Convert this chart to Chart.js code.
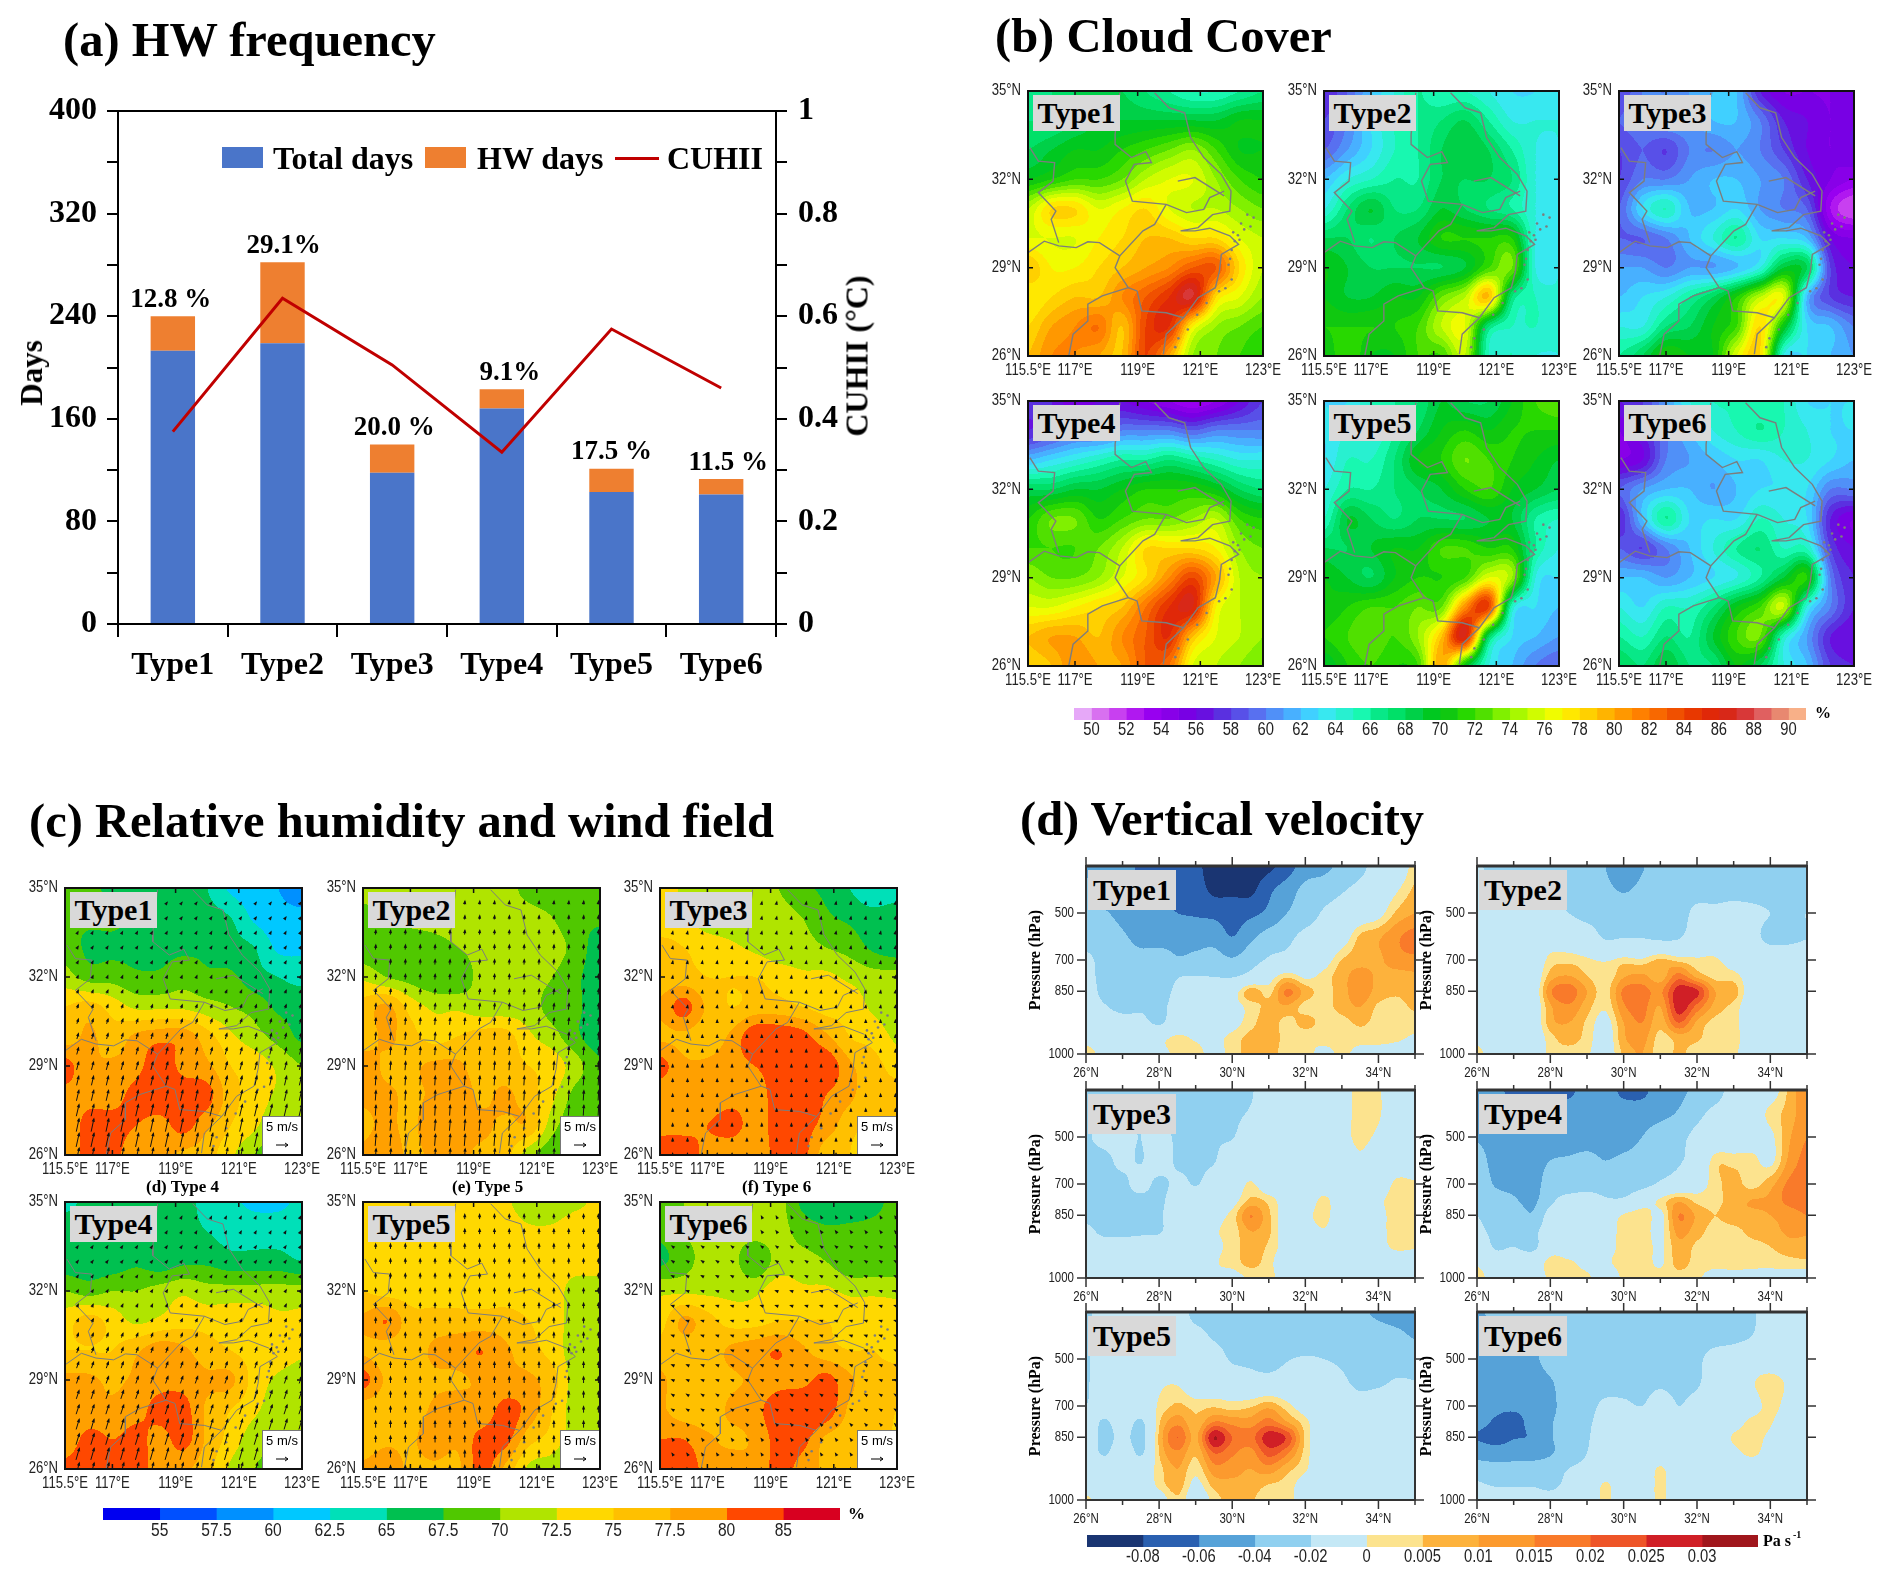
<!DOCTYPE html>
<html>
<head>
<meta charset="utf-8">
<title>Heat wave composite</title>
<script src="https://cdn.jsdelivr.net/npm/chart.js@4/dist/chart.umd.js"></script>
<style>
  body { margin: 0; background: #fff; width: 1892px; height: 1581px; overflow: hidden; position: relative; }
  canvas { position: absolute; }
  .txt { position: absolute; white-space: nowrap; font-family: "Liberation Serif", serif; font-weight: bold; color: #000; }
  .tag { position: absolute; background: #d9d9d9; font-family: "Liberation Serif", serif; font-weight: bold; font-size: 30px; text-align: center; color: #000; }
</style>
</head>
<body>
<script>
// panel (a)
const typeNames = ['Type1', 'Type2', 'Type3', 'Type4', 'Type5', 'Type6'];
const totalDays = [213, 219, 118, 168, 103, 101];
const hwDays = [27, 63, 22, 15, 18, 12];
const cuhii = [0.375, 0.635, 0.505, 0.335, 0.575, 0.46];
const hwShare = ['12.8 %', '29.1%', '20.0 %', '9.1%', '17.5 %', '11.5 %'];

// map grids, rows run north to south
const mapLons = [115.5, 116.25, 117, 117.75, 118.5, 119.25, 120, 120.75, 121.5, 122.25, 123];
const mapLats = [35, 34, 33, 32, 31, 30, 29, 28, 27, 26];

// panel (b) cloud cover, %
const cloudType1 = [
  [67,67,68,68,68,67,66,65,65,66,67],[67,67,68,69,69,69,69,69,69,70,70],[68,69,70,70,71,72,73,74,72,70,70],
  [70,71,72,72,73,75,76,76,74,72,71],[75,78,78,76,77,78,76,75,75,74,73],[76,76,76,77,78,79,79,78,78,76,75],
  [79,77,77,78,79,80,81,83,83,78,75],[77,78,79,79,81,83,85,87,78,76,74],[78,80,81,82,79,84,85,77,74,73,72],
  [79,81,81,80,79,84,80,74,73,72,71]];
const cloudType2 = [
  [57,59,62,64,66,65,65,64,63,63,64],[58,60,63,65,66,67,68,66,64,64,64],[59,61,63,65,66,68,69,68,66,64,64],
  [62,64,65,66,66,68,68,68,67,64,64],[64,67,69,67,67,69,68,67,66,64,64],[68,68,67,68,69,71,71,71,71,64,64],
  [70,69,68,68,68,68,69,72,73,64,64],[70,69,69,70,70,73,75,79,67,65,64],[71,71,71,71,72,75,76,67,65,65,64],
  [70,72,70,70,72,72,75,65,65,64,64]];
const cloudType3 = [
  [58,60,60,61,62,62,57,55,55,55,56],[59,60,61,61,62,62,60,57,56,55,56],[58,59,58,60,60,61,60,58,56,55,56],
  [58,60,60,61,62,62,61,60,57,55,54],[59,63,65,62,62,63,61,60,59,53,51],[59,59,60,62,64,66,63,63,62,56,55],
  [61,61,60,61,61,62,64,69,68,58,56],[62,63,64,66,68,71,75,76,62,58,57],[64,64,67,68,70,72,78,70,63,62,60],
  [66,68,71,70,70,76,78,64,63,62,61]];
const cloudType4 = [
  [58,57,55,56,56,55,54,53,54,56,58],[57,58,59,59,60,60,60,59,60,60,60],[62,63,64,65,66,66,67,66,65,64,64],
  [68,68,69,69,70,71,71,71,70,68,67],[71,73,73,71,72,73,73,74,75,72,71],[72,72,72,73,75,78,78,78,77,74,73],
  [74,73,73,74,76,78,81,84,80,75,74],[76,76,77,78,79,82,85,86,77,75,74],[79,80,80,79,81,83,85,79,76,75,74],
  [78,79,81,80,80,83,82,76,75,74,73]];
const cloudType5 = [
  [63,63,65,66,67,69,68,68,70,72,73],[63,64,64,66,68,70,71,70,71,71,71],[63,65,65,67,70,71,73,72,71,70,69],
  [64,66,66,67,68,69,71,72,70,69,68],[65,69,68,67,68,68,68,69,69,66,65],[68,68,69,70,70,72,72,71,71,66,64],
  [70,69,68,70,71,71,72,76,74,64,63],[70,71,72,72,73,73,81,84,65,63,62],[71,72,73,72,74,79,86,68,63,62,61],
  [69,71,72,71,72,80,70,64,62,60,59]];
const cloudType6 = [
  [57,58,61,64,65,65,65,65,63,63,63],[55,57,60,62,64,65,66,65,64,63,63],[55,56,60,61,62,63,63,64,64,63,62],
  [59,61,62,62,61,62,63,63,63,60,60],[57,62,66,63,63,63,65,64,63,57,55],[59,58,60,62,64,66,67,65,65,58,56],
  [62,62,61,62,63,64,66,69,71,60,57],[64,63,65,65,67,70,72,75,64,60,57],[66,65,67,66,69,72,73,65,61,57,56],
  [68,67,69,67,67,70,68,64,62,58,57]];

// panel (c) relative humidity, %
const rhType1 = [
  [68,68,67,67,67,66,65,62,61,60,58],[68,68,68,67,67,66,66,65,62,61,61],[69,67,67,67,67,67,67,66,65,62,62],
  [71,69,69,68,68,69,68,68,66,65,64],[75,76,74,72,72,72,71,70,69,67,67],[76,78,76,78,79,79,76,73,71,69,67],
  [81,78,78,79,82,79,78,75,74,72,70],[79,79,79,81,82,82,81,76,74,72,71],[78,81,81,80,79,81,78,75,73,70,70],
  [78,81,81,78,78,77,76,73,70,68,69]];
const rhType2 = [
  [71,71,71,71,71,71,71,69,68,68,68],[69,70,71,71,71,71,71,71,70,68,68],[68,68,68,69,70,71,71,71,71,69,66],
  [72,70,69,68,68,71,71,71,70,68,66],[76,78,74,72,72,71,71,71,69,68,66],[76,78,76,74,75,76,76,73,71,68,66],
  [79,77,77,78,78,76,76,75,74,71,68],[78,78,77,78,79,77,78,76,73,69,68],[77,78,77,79,78,78,77,77,71,68,68],
  [78,79,77,78,78,77,76,71,68,67,68]];
const rhType3 = [
  [74,72,71,71,71,70,68,67,65,63,63],[73,73,71,71,71,71,70,68,67,66,67],[76,75,74,73,72,71,71,70,69,67,66],
  [76,76,75,75,75,74,73,73,72,71,71],[78,81,77,75,76,76,75,74,74,72,71],[77,77,76,78,82,82,81,78,75,74,72],
  [81,78,78,79,80,81,81,82,78,76,74],[78,78,78,79,79,81,82,80,78,76,76],[79,79,80,81,79,81,81,79,76,75,76],
  [82,82,79,78,78,81,81,76,75,71,75]];
const rhType4 = [
  [64,66,67,67,66,66,64,63,62,62,63],[67,67,66,66,66,66,65,64,64,64,64],[66,66,66,67,66,67,67,66,66,66,65],
  [70,69,70,70,71,72,71,71,71,71,71],[74,76,74,72,73,74,74,74,74,73,73],[75,75,75,77,79,78,76,75,74,74,73],
  [78,78,77,78,79,79,78,78,74,72,71],[78,78,78,79,81,81,77,75,73,71,71],[78,81,80,81,79,81,77,74,71,70,70],
  [81,82,82,81,79,78,76,72,70,70,71]];
const rhType5 = [
  [74,74,74,74,74,74,73,71,71,72,73],[74,74,74,74,74,74,74,73,73,74,73],[74,74,74,74,74,74,74,74,74,74,74],
  [75,74,74,74,74,74,74,74,74,71,71],[78,80,76,76,76,76,76,75,74,71,71],[77,76,76,78,79,80,78,76,74,71,71],
  [81,77,76,77,77,78,78,78,76,71,71],[76,76,76,78,79,78,81,79,75,71,71],[76,77,77,79,78,81,81,76,74,71,71],
  [78,79,77,77,77,81,77,72,71,68,71]];
const rhType6 = [
  [68,70,71,70,71,71,67,66,66,67,68],[68,70,71,71,71,71,69,68,68,68,68],[67,69,71,71,68,71,71,70,68,68,68],
  [72,72,72,72,72,74,73,73,72,72,72],[74,78,76,74,74,75,75,75,74,74,73],[76,76,76,78,79,80,78,76,75,75,74],
  [78,76,76,77,78,79,79,81,78,76,76],[78,76,76,78,79,82,83,82,77,76,75],[80,80,78,77,78,81,81,77,76,75,75],
  [82,82,79,79,78,81,79,77,76,75,75]];

// wind vectors, one u and one v per latitude row, m/s
const windLons = [115.9, 116.37, 116.84, 117.31, 117.78, 118.25, 118.72, 119.19, 119.66, 120.13, 120.6, 121.07, 121.54, 122.01, 122.48, 122.95];
const windLats = [34.5, 34, 33.5, 33, 32.5, 32, 31.5, 31, 30.5, 30, 29.5, 29, 28.5, 28, 27.5, 27, 26.5, 26];
const windVType1 = [.3,.3,.4,.5,.6,.8,1,1.2,1.5,1.8,2.2,2.6,3,3.4,3.8,4.2,4.5,4.5];
const windUType1 = [.2,.2,.2,.3,.3,.3,.4,.4,.5,.5,.6,.7,.7,.8,.9,.9,1,1];
const windVType2 = [1,1.2,1.4,1.5,1.6,1.7,1.8,2,2.2,2.4,2.6,2.8,3,3.2,3.4,3.6,3.8,4];
const windUType2 = [.1,.1,.1,.1,.1,.1,.2,.2,.2,.2,.2,.2,.2,.2,.2,.3,.3,.3];
const windVType3 = [.5,.5,.5,.6,.6,.6,.7,.7,.8,.8,.9,.9,1,1,1,1,1,1];
const windUType3 = [.1,.1,.1,.1,.1,.1,.1,.1,0,0,0,0,0,0,0,0,0,0];
const windVType4 = [.2,.2,.3,.4,.5,.7,.9,1.1,1.4,1.7,2,2.3,2.7,3,3.3,3.6,3.8,4];
const windUType4 = [.1,.1,.2,.3,.3,.4,.4,.5,.5,.6,.7,.8,.9,1,1,1.1,1.1,1.1];
const windVType5 = [1.5,1.6,1.6,1.6,1.6,1.7,1.7,1.8,1.8,1.8,1.9,2,2,2,2.1,2.1,2.2,2.2];
const windUType5 = [0,0,0,0,0,0,0,0,0,0,0,0,0,0,0,0,0,0];
const windVType6 = [.4,.4,.3,.3,.3,.2,.2,.2,.2,.2,.2,.2,.3,.3,.4,.4,.5,.5];
const windUType6 = [-.2,-.3,-.4,-.5,-.6,-.6,-.6,-.6,-.6,-.5,-.5,-.5,-.5,-.5,-.4,-.3,-.3,-.2];

// panel (d) vertical velocity, 0.001 Pa/s; level rows top to bottom
const sectionLats = [26,26.5,27,27.5,28,28.5,29,29.5,30,30.5,31,31.5,32,32.5,33,33.5,34,34.5,35];
const sectionRows = [0, 1.5, 3, 4.5, 6, 7, 8, 9, 10, 11, 12];
const pressureRows = [3, 6, 8, 12];
const pressureLabels = [500, 700, 850, 1000];
const omegaType1 = [
  [-50,-50,-50,-65,-65,-70,-75,-90,-95,-90,-85,-70,-50,-45,-35,-25,-12,-8,3],
  [-30,-50,-50,-50,-55,-65,-70,-85,-85,-85,-65,-50,-35,-30,-22,-15,-8,-1,6],
  [-30,-38,-45,-50,-55,-60,-62,-65,-68,-65,-55,-40,-30,-18,-12,-8,-3,6,10],
  [-30,-32,-38,-45,-50,-48,-48,-48,-60,-45,-32,-25,-15,-12,-6,6,9,14,17],
  [-15,-28,-33,-35,-30,-38,-35,-32,-38,-28,-18,-15,-10,-5,5,8,9,13,14],
  [-15,-25,-28,-30,-35,-22,-20,-21,-22,-15,-5,3,-2,2,8,12,9,8,9],
  [-10,-25,-24,-23,-30,-15,-10,-8,-5,8,3,16,8,3,8,13,8,6,8],
  [-8,-18,-25,-22,-25,-12,-8,-5,-3,2,7,9,3,3,7,10,4,3,6],
  [-5,-8,-12,-15,-22,-10,-8,-5,-3,3,8,3,7,3,3,6,3,2,2],
  [-5,-8,-8,-5,-3,2,-1,-2,2,7,8,3,1,2,2,2,2,1,-1],
  [6,-5,-5,-2,-3,2,2,-2,2,8,8,2,2,-2,1,-2,-3,-4,-5]];
const omegaType2 = [
  [-18,-25,-28,-30,-30,-30,-32,-40,-55,-42,-30,-35,-30,-30,-30,-30,-30,-30,-30],
  [-15,-22,-25,-25,-25,-25,-30,-35,-42,-35,-30,-28,-28,-28,-28,-28,-28,-28,-28],
  [-10,-10,-10,-10,-15,-20,-25,-25,-28,-28,-30,-28,-15,-15,-12,-15,-20,-22,-20],
  [-5,-5,-5,-5,-6,-8,-12,-22,-21,-21,-24,-22,-10,-10,-12,-15,-25,-25,-21],
  [-3,-8,-8,-8,2,3,1,-1,2,1,6,3,1,1,-5,-8,-8,-8,-8],
  [-3,-8,-8,-8,7,10,5,1,9,11,7,17,8,3,2,-5,-8,-8,-8],
  [-3,-8,-8,-8,14,18,10,3,16,17,14,28,26,10,8,-6,-8,-8,-8],
  [-3,-8,-8,-8,9,14,7,1,14,17,10,28,18,8,3,-6,-8,-8,-8],
  [-3,-8,-8,-8,8,10,4,-3,10,15,7,20,9,3,2,-6,-8,-8,-8],
  [-3,-8,-8,-8,3,7,3,-5,9,12,3,7,6,1,2,-5,-8,-8,-8],
  [4,-8,-8,-8,2,3,1,-5,6,10,2,6,2,1,1,-5,-8,-8,-8]];
const omegaType3 = [
  [-25,-25,-25,-25,-25,-25,-25,-25,-25,-22,-8,-8,-8,-5,-3,2,1,-8,-8],
  [-25,-22,-22,-22,-25,-28,-28,-28,-24,-18,-8,-8,-8,-5,-3,2,1,-8,-8],
  [-22,-15,-15,-20,-10,-24,-24,-22,-21,-8,-8,-8,-8,-5,-3,2,-2,-8,-8],
  [-25,-25,-15,-21,-8,-23,-22,-21,-8,-8,-8,-8,-8,-8,-8,-2,-8,-8,-8],
  [-25,-25,-25,-12,-25,-15,-21,-12,-8,1,-8,-8,-8,-8,-8,-8,-8,2,1],
  [-25,-25,-25,-25,-25,-8,-8,-8,-4,6,3,-5,-8,2,-8,-8,-2,3,2],
  [-25,-25,-22,-21,-22,-8,-8,-3,2,15,6,-5,-3,3,-8,-8,-3,3,1],
  [-15,-25,-25,-23,-22,-8,-8,-1,2,10,6,-5,-6,-1,-8,-8,-3,3,2],
  [-8,-10,-10,-10,-8,-8,-8,-2,2,8,4,-4,-8,-8,-8,-8,-4,2,1],
  [-8,-8,-8,-8,-8,-8,-8,-1,2,7,2,-6,-8,-8,-8,-8,-8,-8,-8],
  [-8,-8,-8,-8,-8,-8,-8,-1,-3,1,2,-5,-8,-8,-8,-8,-8,-8,-8]];
const omegaType4 = [
  [-50,-55,-65,-65,-65,-65,-50,-50,-65,-65,-50,-45,-35,-28,-12,-8,-5,6,14],
  [-45,-50,-55,-60,-50,-50,-50,-50,-50,-50,-45,-38,-25,-15,-10,-6,2,7,14],
  [-42,-50,-55,-55,-50,-50,-48,-48,-48,-40,-30,-25,-15,-10,-8,-5,-2,9,15],
  [-30,-48,-50,-50,-40,-38,-35,-40,-36,-32,-28,-22,-12,3,3,2,-2,11,17],
  [-25,-42,-45,-50,-30,-35,-30,-30,-28,-25,-18,-12,-5,3,7,3,8,16,18],
  [-22,-32,-38,-45,-25,-12,-10,-18,-18,-8,1,8,3,3,8,10,11,17,18],
  [-20,-28,-28,-38,-12,-8,-8,-8,1,4,-2,15,9,5,9,9,10,12,15],
  [-15,-25,-25,-25,-10,-8,-6,-4,2,3,-2,12,7,3,3,7,8,11,11],
  [-5,-22,-20,-25,-5,-6,-4,-3,2,3,-1,8,4,3,2,3,5,8,8],
  [-2,-10,-6,-6,2,1,-2,-1,2,3,-1,7,3,2,2,2,2,3,4],
  [6,-8,-6,-8,2,2,1,-4,1,3,2,3,1,-3,-2,-3,-3,-3,-5]];
const omegaType5 = [
  [-22,-15,-15,-15,-15,-12,-25,-25,-25,-25,-25,-25,-25,-25,-25,-35,-45,-50,-50],
  [-22,-15,-15,-15,-15,-12,-15,-22,-25,-25,-25,-25,-25,-25,-25,-25,-30,-35,-42],
  [-22,-10,-10,-10,-10,-10,-10,-12,-22,-24,-28,-21,-19,-20,-22,-26,-28,-28,-28],
  [-22,-8,-8,-8,-2,-1,-8,-8,-8,-12,-12,-10,-10,-14,-17,-24,-23,-18,-19],
  [-20,-8,-8,-8,1,6,3,4,2,4,8,2,-5,-8,-8,-12,-8,-8,-8],
  [-8,-22,-10,-22,4,13,6,15,13,12,17,10,2,-8,-8,-8,-8,-8,-8],
  [-8,-25,-15,-25,6,20,9,30,20,18,28,24,4,-8,-8,-8,-8,-8,-8],
  [-8,-22,-8,-22,5,14,6,20,16,13,22,16,3,-8,-8,-8,-8,-8,-8],
  [-8,-8,-8,-8,3,10,2,13,12,10,13,7,1,-8,-8,-8,-8,-8,-8],
  [-8,-8,-8,-8,2,8,-2,7,9,8,5,3,-4,-8,-8,-8,-8,-8,-8],
  [3,-8,-8,-8,-5,4,-6,2,8,6,1,3,-6,-8,-8,-8,-8,-8,-8]];
const omegaType6 = [
  [-45,-32,-30,-30,-30,-28,-28,-28,-28,-28,-28,-28,-30,-28,-26,-22,-12,-10,-10],
  [-48,-48,-48,-42,-30,-28,-28,-28,-28,-28,-28,-28,-28,-28,-25,-20,-12,-10,-10],
  [-50,-50,-50,-45,-32,-30,-30,-30,-30,-30,-30,-30,-24,-12,-10,-8,-8,-8,-8],
  [-50,-50,-50,-50,-42,-30,-30,-30,-26,-25,-23,-25,-22,-10,-8,-1,4,-2,-8],
  [-52,-55,-55,-52,-45,-30,-28,-15,-17,-20,-12,-20,-14,-8,-8,-5,3,-4,-8],
  [-55,-62,-68,-52,-42,-30,-24,-10,-8,-8,-8,-18,-10,-8,-5,2,1,-8,-8],
  [-61,-65,-61,-58,-42,-30,-22,-8,-8,-8,-8,-8,-8,-8,1,3,-2,-8,-8],
  [-50,-52,-52,-50,-42,-30,-20,-8,-8,-8,-8,-8,-8,-8,-3,2,-5,-8,-8],
  [-28,-32,-30,-30,-28,-20,-15,-8,-8,-8,1,-8,-8,-8,-8,-8,-8,-8,-8],
  [-18,-22,-22,-22,-25,-15,-10,1,-8,-8,2,-8,-8,-8,-8,-8,-8,-8,-8],
  [-8,-8,-8,-8,-12,-8,-8,2,-8,-8,2,-8,-8,-8,-8,-8,-8,-8,-8]];

// colour levels
const cloudLevels = [50,51,52,53,54,55,56,57,58,59,60,61,62,63,64,65,66,67,68,69,70,71,72,73,74,75,76,77,78,79,80,81,82,83,84,85,86,87,88,89,90];
const cloudColors = ['#e6a8f8','#d870f0','#c840f0','#b018f0','#9800f0','#8800e8','#7800e4','#6810e0','#5a30e0','#5850e8','#5870f0','#5090f8','#48b0ff','#40d0ff','#38e8f0','#28f0d0','#18f8b0','#08e888','#00e068','#00d048','#00c820','#10c810','#28d800','#50e000','#80f000','#a8f800','#d0fc00','#f0fc00','#ffe800','#ffd000','#ffb400','#ff9800','#ff8000','#f86800','#f05000','#e83800','#e02808','#d82818','#d83838','#e06060','#e88870','#f8b088'];
const rhLevels = [55,57.5,60,62.5,65,67.5,70,72.5,75,77.5,80,85];
const rhColors = ['#0000f0','#0050ff','#0090ff','#00c8ff','#00e0b8','#00c050','#50c800','#b0e400','#ffd800','#ffc000','#ffa000','#ff4800','#d80020'];
const omegaLevels = [-80,-60,-40,-20,0,5,10,15,20,25,30];
const omegaLevelLabels = ['-0.08','-0.06','-0.04','-0.02','0','0.005','0.01','0.015','0.02','0.025','0.03'];
const omegaColors = ['#1a3572','#2a60b0','#56a2d8','#90d0f0','#c4e8f6','#fce38e','#fdb23c','#fc9a2e','#f97a2a','#ee5528','#d01f26','#a0161c'];

// coast and provincial borders, lon/lat
const coastLine = [[119.54,34.94],[120,34.43],[120.5,34.26],[120.69,33.42],[121.11,32.74],[121.67,32.17],[121.98,31.6],[121.94,30.92],[121.39,30.8],[120.93,30.36],[120.37,30.25],[120.83,30.25],[121.3,30.34],[121.94,30.08],[122.22,29.79],[121.67,29.45],[121.61,28.89],[121.48,28.32],[120.93,27.98],[120.46,27.3],[119.91,26.74],[119.82,26.06]];
const borderNorth = [[118.43,34.94],[118.28,33.53],[118.28,33.19],[118.8,32.74],[119.26,32.94],[119.44,32.57],[118.89,32.51],[118.61,31.94],[118.83,31.26],[119.91,31.15],[120.56,30.87],[121.11,30.98],[121.3,31.38],[121.76,31.6]];
const borderEast = [[119.91,31.15],[119.54,30.47],[119.17,30.25],[118.43,29.4],[118.28,29],[118.7,28.32],[118.98,28.21],[119.13,27.53],[119.91,27.47],[120.46,27.3]];
const borderWest = [[115.5,29.51],[116.02,29.9],[116.48,29.74],[117.04,29.68],[117.41,29.88],[117.78,29.85],[118.43,29.4]];
const borderAnhui = [[115.56,33.08],[115.83,32.62],[116.35,32.57],[116.3,31.94],[115.83,31.55],[116.39,30.92],[116.24,30.64],[116.48,29.85]];
const borderFujian = [[118.7,28.32],[117.87,28.04],[117.41,27.76],[117.41,27.19],[116.94,26.74],[116.8,26]];
const riverMouth = [[120.28,31.94],[120.83,32.06],[121.76,31.44]];
const islands = [[122.2,30.1],[122.4,30.3],[122.1,29.9],[122.3,30.5],[122.5,30.8],[122.7,30.7],[122.6,30.4],[122.0,29.6],[121.95,29.3],[121.9,29.1],[122.0,28.6],[121.8,28.3],[121.6,28.2],[121.2,27.8],[120.9,27.4],[120.6,26.9],[120.3,26.6],[120.2,26.3],[122.25,29.95],[122.05,30.2]];
const mapBorders = [coastLine, borderNorth, borderEast, borderWest, borderAnhui, borderFujian, riverMouth];
// offsets of the percentage labels from their bars, px
const hwShareShift = [-2, 1, 2, 8, 0, 7];

Chart.defaults.animation = false;
Chart.defaults.devicePixelRatio = 1;
Chart.defaults.responsive = false;
Chart.defaults.maintainAspectRatio = false;
Chart.defaults.plugins.legend.display = false;
Chart.defaults.plugins.tooltip.enabled = false;

const SERIF = '"Liberation Serif", serif';
const SANS = '"Liberation Sans", sans-serif';

function addCanvas(left, top, w, h) {
  const c = document.createElement('canvas');
  c.width = w; c.height = h;
  c.style.left = left + 'px'; c.style.top = top + 'px';
  c.style.width = w + 'px'; c.style.height = h + 'px';
  document.body.appendChild(c);
  return c;
}
function addText(text, left, top, size, extra) {
  const d = document.createElement('div');
  d.className = 'txt';
  d.textContent = text;
  d.style.left = left + 'px'; d.style.top = top + 'px'; d.style.fontSize = size + 'px';
  if (extra) Object.assign(d.style, extra);
  document.body.appendChild(d);
  return d;
}
function addTag(text, left, top, w, h) {
  const d = document.createElement('div');
  d.className = 'tag';
  d.textContent = text;
  d.style.left = left + 'px'; d.style.top = top + 'px';
  d.style.width = w + 'px'; d.style.height = h + 'px'; d.style.lineHeight = h + 'px';
  document.body.appendChild(d);
}
// keeps the plot rectangle where we asked for it
function fixSize(size) {
  return scale => {
    if (scale.isHorizontal()) scale.height = size; else scale.width = size;
    scale.paddingLeft = scale.paddingRight = scale.paddingTop = scale.paddingBottom = 0;
  };
}
function rgb(hex) {
  return [parseInt(hex.slice(1, 3), 16), parseInt(hex.slice(3, 5), 16), parseInt(hex.slice(5, 7), 16)];
}
function locate(axis, v) {
  const n = axis.length - 1;
  const sign = axis[n] > axis[0] ? 1 : -1;
  let i = 0;
  while (i < n - 1 && sign * v > sign * axis[i + 1]) i++;
  const t = Math.max(0, Math.min(1, (v - axis[i]) / (axis[i + 1] - axis[i])));
  const t2 = t * t, t3 = t2 * t;
  return {
    idx: [Math.max(i - 1, 0), i, i + 1, Math.min(i + 2, n)],
    w: [-0.5 * t3 + t2 - 0.5 * t, 1.5 * t3 - 2.5 * t2 + 1, -1.5 * t3 + 2 * t2 + 0.5 * t, 0.5 * t3 - 0.5 * t2]
  };
}

// filled contours of a gridded field, pixel by pixel through the chart scales
const contourFill = {
  id: 'contourFill',
  beforeDatasetsDraw(chart, args, o) {
    if (!o.field) return;
    const { ctx, chartArea: a, scales: { x, y } } = chart;
    const w = Math.round(a.right - a.left), h = Math.round(a.bottom - a.top);
    const img = ctx.createImageData(w, h);
    const cols = o.colors.map(rgb);
    const xs = [];
    for (let px = 0; px < w; px++) xs.push(locate(o.cols, x.getValueForPixel(a.left + px + 0.5)));
    let p = 0;
    for (let py = 0; py < h; py++) {
      const ry = locate(o.rows, y.getValueForPixel(a.top + py + 0.5));
      for (let px = 0; px < w; px++) {
        const rx = xs[px];
        let v = 0;
        for (let j = 0; j < 4; j++) {
          const row = o.field[ry.idx[j]];
          for (let m = 0; m < 4; m++) v += ry.w[j] * rx.w[m] * row[rx.idx[m]];
        }
        let k = 0;
        while (k < o.levels.length && v >= o.levels[k]) k++;
        const col = cols[k];
        img.data[p++] = col[0]; img.data[p++] = col[1]; img.data[p++] = col[2]; img.data[p++] = 255;
      }
    }
    ctx.putImageData(img, Math.round(a.left), Math.round(a.top));
  }
};

const windArrows = {
  id: 'windArrows',
  afterDatasetsDraw(chart, args, o) {
    if (!o.show) return;
    const { ctx, chartArea: a, scales: { x, y } } = chart;
    const k = 3;
    ctx.save();
    ctx.beginPath(); ctx.rect(a.left, a.top, a.right - a.left, a.bottom - a.top); ctx.clip();
    ctx.strokeStyle = '#111'; ctx.fillStyle = '#111'; ctx.lineWidth = 1;
    chart.data.datasets.filter(d => d.label === 'wind').forEach(d => d.data.forEach(pt => {
      const dx = pt.u * k, dy = -pt.v * k;
      const cx = x.getPixelForValue(pt.x), cy = y.getPixelForValue(pt.y);
      const tipX = cx + dx / 2, tipY = cy + dy / 2;
      ctx.beginPath(); ctx.moveTo(cx - dx / 2, cy - dy / 2); ctx.lineTo(tipX, tipY); ctx.stroke();
      const ang = Math.atan2(dy, dx);
      ctx.beginPath(); ctx.moveTo(tipX + Math.cos(ang) * 1.5, tipY + Math.sin(ang) * 1.5);
      ctx.lineTo(tipX + Math.cos(ang + 2.6) * 3.2, tipY + Math.sin(ang + 2.6) * 3.2);
      ctx.lineTo(tipX + Math.cos(ang - 2.6) * 3.2, tipY + Math.sin(ang - 2.6) * 3.2);
      ctx.closePath(); ctx.fill();
    }));
    // reference vector box
    const bw = 40, bh = 39, bx = a.right - bw, by = a.bottom - bh;
    ctx.fillStyle = '#fff'; ctx.fillRect(bx, by, bw, bh);
    ctx.strokeStyle = '#777'; ctx.strokeRect(bx + 0.5, by + 0.5, bw - 1, bh - 1);
    ctx.fillStyle = '#000'; ctx.font = '13px ' + SANS; ctx.textAlign = 'center'; ctx.textBaseline = 'middle';
    ctx.fillText('5 m/s', bx + bw / 2, by + 11);
    ctx.strokeStyle = '#000';
    ctx.beginPath(); ctx.moveTo(bx + bw / 2 - 6, by + 29); ctx.lineTo(bx + bw / 2 + 6, by + 29);
    ctx.moveTo(bx + bw / 2 + 3, by + 27); ctx.lineTo(bx + bw / 2 + 6, by + 29); ctx.lineTo(bx + bw / 2 + 3, by + 31); ctx.stroke();
    ctx.restore();
  }
};

// frame and tick marks on all four sides
const panelFrame = {
  id: 'panelFrame',
  afterDraw(chart, args, o) {
    if (!o.kind) return;
    const { ctx, chartArea: a, scales: { x, y } } = chart;
    ctx.save();
    ctx.strokeStyle = o.kind === 'map' ? '#111' : '#333';
    ctx.lineWidth = 1.5;
    ctx.beginPath();
    o.xTicks.forEach(v => {
      const px = x.getPixelForValue(v);
      if (o.kind === 'map') {
        ctx.moveTo(px, a.top); ctx.lineTo(px, a.top + 5); ctx.moveTo(px, a.bottom); ctx.lineTo(px, a.bottom - 5);
      } else {
        const len = v % 2 === 0 ? 9 : 5;
        ctx.moveTo(px, a.top); ctx.lineTo(px, a.top - len); ctx.moveTo(px, a.bottom); ctx.lineTo(px, a.bottom + len);
      }
    });
    o.yTicks.forEach(v => {
      const py = y.getPixelForValue(v);
      if (o.kind === 'map') {
        ctx.moveTo(a.left, py); ctx.lineTo(a.left + 5, py); ctx.moveTo(a.right, py); ctx.lineTo(a.right - 5, py);
      } else {
        ctx.moveTo(a.left, py); ctx.lineTo(a.left - 9, py); ctx.moveTo(a.right, py); ctx.lineTo(a.right + 9, py);
      }
    });
    ctx.stroke();
    ctx.lineWidth = 2;
    ctx.strokeRect(a.left, a.top, a.right - a.left, a.bottom - a.top);
    if (o.kind === 'section') {
      ctx.lineWidth = 3;
      ctx.beginPath(); ctx.moveTo(a.left, a.top); ctx.lineTo(a.right, a.top); ctx.stroke();
    }
    ctx.restore();
  }
};

// tick labels squeezed sideways, the figure uses a narrow sans
const squeezedTicks = {
  id: 'squeezedTicks',
  afterDraw(chart, args, o) {
    if (!o.size) return;
    const { ctx, chartArea: a, scales: { x, y } } = chart;
    ctx.save();
    ctx.font = o.size + 'px ' + SANS;
    ctx.fillStyle = '#222';
    const squeeze = 0.82;
    ctx.textAlign = 'center'; ctx.textBaseline = 'top';
    x.ticks.forEach(t => {
      if (t.label === '' || t.label === undefined) return;
      ctx.save();
      ctx.translate(x.getPixelForValue(t.value), a.bottom + o.padX);
      ctx.scale(squeeze, 1);
      ctx.fillText(t.label, 0, 0);
      ctx.restore();
    });
    if (o.padY !== undefined) {
      ctx.textAlign = 'right'; ctx.textBaseline = 'middle';
      y.ticks.forEach(t => {
        ctx.save();
        ctx.translate(a.left - o.padY, y.getPixelForValue(t.value));
        ctx.scale(squeeze, 1);
        ctx.fillText(t.label, 0, 0);
        ctx.restore();
      });
    }
    ctx.restore();
  }
};
Chart.register(contourFill, windArrows, panelFrame, squeezedTicks);

function fieldPoints(field, cols, rows) {
  const pts = [];
  field.forEach((row, r) => row.forEach((v, c) => pts.push({ x: cols[c], y: rows[r], v })));
  return pts;
}

function mapPanel(rect, name, field, levels, colors, windU, windV) {
  const mL = 44, mR = 28, mT = 10, mB = 32;
  const [l, t, w, h] = rect;
  const cv = addCanvas(l - mL, t - mT, w + mL + mR, h + mT + mB);
  const datasets = [{ label: 'field', data: fieldPoints(field, mapLons, mapLats), pointRadius: 0 }];
  mapBorders.forEach(line => datasets.push({
    label: 'border', data: line.map(p => ({ x: p[0], y: p[1] })), showLine: true,
    borderColor: '#7d7d7d', borderWidth: windU ? 1 : 1.4, pointRadius: 0, tension: 0
  }));
  datasets.push({ label: 'islands', data: islands.map(p => ({ x: p[0], y: p[1] })), pointRadius: 1.3, backgroundColor: '#7d7d7d', borderWidth: 0 });
  if (windU) {
    const pts = [];
    windLats.forEach((lat, r) => windLons.forEach(lon => pts.push({ x: lon, y: lat, u: windU[r], v: windV[r] })));
    datasets.push({ label: 'wind', data: pts, pointRadius: 0 });
  }
  const xTicks = [115.5, 117, 119, 121, 123], yTicks = [26, 29, 32, 35];
  new Chart(cv, {
    type: 'scatter',
    data: { datasets },
    options: {
      layout: { padding: { top: mT, right: mR, left: 0, bottom: 0 } },
      scales: {
        x: {
          type: 'linear', min: 115.5, max: 123,
          grid: { display: false }, border: { display: false },
          afterBuildTicks: s => { s.ticks = xTicks.map(value => ({ value })); },
          afterFit: fixSize(mB),
          ticks: { display: false, autoSkip: false, callback: v => v + '°E' }
        },
        y: {
          type: 'linear', min: 26, max: 35,
          grid: { display: false }, border: { display: false },
          afterBuildTicks: s => { s.ticks = yTicks.map(value => ({ value })); },
          afterFit: fixSize(mL),
          ticks: { display: false, autoSkip: false, callback: v => v + '°N' }
        }
      },
      plugins: {
        contourFill: { field, cols: mapLons, rows: mapLats, levels, colors },
        windArrows: { show: !!windU },
        panelFrame: { kind: 'map', xTicks: xTicks.slice(1, 4), yTicks: [29, 32] },
        squeezedTicks: { size: 16, padX: 7, padY: 7 }
      }
    }
  });
  addTag(name, l + 5, t + 4, 87, 36);
}

function sectionPanel(rect, name, field) {
  const mL = 60, mR = 16, mT = 14, mB = 34;
  const [l, t, w, h] = rect;
  const cv = addCanvas(l - mL, t - mT, w + mL + mR, h + mT + mB);
  const xTicks = [26, 27, 28, 29, 30, 31, 32, 33, 34, 35];
  new Chart(cv, {
    type: 'scatter',
    data: { datasets: [{ label: 'omega', data: fieldPoints(field, sectionLats, sectionRows), pointRadius: 0 }] },
    options: {
      layout: { padding: { top: mT, right: mR, left: 0, bottom: 0 } },
      scales: {
        x: {
          type: 'linear', min: 26, max: 35,
          grid: { display: false }, border: { display: false },
          afterBuildTicks: s => { s.ticks = [26, 28, 30, 32, 34].map(value => ({ value })); },
          afterFit: fixSize(mB),
          ticks: { display: false, autoSkip: false, callback: v => v + '°N' }
        },
        y: {
          type: 'linear', min: 0, max: 12, reverse: true,
          grid: { display: false }, border: { display: false },
          afterBuildTicks: s => { s.ticks = pressureRows.map(value => ({ value })); },
          afterFit: fixSize(mL),
          title: { display: true, text: 'Pressure (hPa)', color: '#000', padding: { top: 0, bottom: 3 }, font: { family: SERIF, size: 16, weight: 'bold' } },
          ticks: { display: false, autoSkip: false, callback: v => pressureLabels[pressureRows.indexOf(v)] }
        }
      },
      plugins: {
        contourFill: { field, cols: sectionLats, rows: sectionRows, levels: omegaLevels, colors: omegaColors },
        panelFrame: { kind: 'section', xTicks, yTicks: pressureRows },
        squeezedTicks: { size: 14, padX: 12, padY: 12 }
      }
    }
  });
  addTag(name, l + 2, t + 4, 88, 40);
}

function colorBar(rect, colors, labelFor, fontSize, pad) {
  const mL = 30, mR = 30, mB = 30;
  const [l, t, w, h] = rect;
  const cv = addCanvas(l - mL, t, w + mL + mR, h + mB);
  new Chart(cv, {
    type: 'bar',
    data: {
      labels: [''],
      datasets: colors.map(c => ({ data: [1], backgroundColor: c, barPercentage: 1, categoryPercentage: 1 }))
    },
    options: {
      indexAxis: 'y',
      layout: { padding: { left: mL, right: mR } },
      scales: {
        x: {
          type: 'linear', stacked: true, min: 0, max: colors.length,
          grid: { display: false }, border: { display: false },
          afterFit: fixSize(mB),
          ticks: { display: false, stepSize: 1, autoSkip: false, callback: labelFor }
        },
        y: { stacked: true, display: false }
      },
      plugins: { squeezedTicks: { size: fontSize, padX: pad } }
    }
  });
}

// ---- panel (a)
const hwLabels = {
  id: 'hwLabels',
  afterDatasetsDraw(chart) {
    const { ctx, scales: { x, y } } = chart;
    ctx.save();
    ctx.font = 'bold 27px ' + SERIF; ctx.fillStyle = '#000'; ctx.textAlign = 'center'; ctx.textBaseline = 'bottom';
    hwShare.forEach((s, i) => {
      ctx.fillText(s, x.getPixelForValue(i) + hwShareShift[i], y.getPixelForValue(totalDays[i] + hwDays[i]) - 3);
    });
    ctx.strokeStyle = '#000'; ctx.lineWidth = 2;
    ctx.beginPath(); ctx.moveTo(chart.chartArea.left, chart.chartArea.top); ctx.lineTo(chart.chartArea.right, chart.chartArea.top); ctx.stroke();
    ctx.restore();
  }
};
const axisFont = { family: SERIF, size: 32, weight: 'bold' };
new Chart(addCanvas(0, 90, 875, 617), {
  type: 'bar',
  data: {
    labels: typeNames,
    datasets: [
      { type: 'line', label: 'CUHII', data: cuhii, yAxisID: 'y2', borderColor: '#c00000', borderWidth: 3, pointRadius: 0, tension: 0, order: 0 },
      { label: 'Total days', data: totalDays, backgroundColor: '#4a75c9', barPercentage: 0.405, categoryPercentage: 1, order: 1 },
      { label: 'HW days', data: hwDays, backgroundColor: '#ee7f30', barPercentage: 0.405, categoryPercentage: 1, order: 1 }
    ]
  },
  plugins: [hwLabels],
  options: {
    layout: { padding: { top: 21, right: 0, left: 0, bottom: 0 } },
    scales: {
      x: {
        stacked: true,
        grid: { drawOnChartArea: false, tickLength: 13, offset: true, color: '#000', lineWidth: 2 },
        border: { color: '#000', width: 2 },
        afterFit: fixSize(83),
        ticks: { padding: 10, color: '#000', font: axisFont, maxRotation: 0 }
      },
      y: {
        stacked: true, min: 0, max: 400,
        grid: { drawOnChartArea: false, tickLength: 11, color: '#000', lineWidth: 2 },
        border: { color: '#000', width: 2 },
        afterFit: fixSize(118),
        ticks: { stepSize: 40, autoSkip: false, padding: 10, color: '#000', font: axisFont, callback: v => (v % 80 === 0 ? v : '') }
      },
      y2: {
        position: 'right', min: 0, max: 1,
        grid: { drawOnChartArea: false, tickLength: 11, color: '#000', lineWidth: 2 },
        border: { color: '#000', width: 2 },
        afterFit: fixSize(99),
        ticks: { stepSize: 0.1, autoSkip: false, padding: 11, color: '#000', font: axisFont, callback: v => (Math.round(v * 10) % 2 === 0 ? +v.toFixed(1) : '') }
      }
    }
  }
});
addText('Days', 32, 373, 31, { transform: 'translate(-50%,-50%) rotate(-90deg)' });
addText('CUHII (°C)', 857, 356, 32, { transform: 'translate(-50%,-50%) rotate(-90deg)' });

// legend of panel (a)
function legendBox(left, color) {
  const d = document.createElement('div');
  d.style.cssText = `position:absolute;left:${left}px;top:147px;width:41px;height:21px;background:${color}`;
  document.body.appendChild(d);
}
legendBox(222, '#4a75c9');
addText('Total days', 273, 140, 32);
legendBox(425, '#ee7f30');
addText('HW days', 477, 140, 32);
const legendLine = document.createElement('div');
legendLine.style.cssText = 'position:absolute;left:615px;top:157px;width:44px;height:3px;background:#c00000';
document.body.appendChild(legendLine);
addText('CUHII', 667, 140, 32);

// ---- titles
addText('(a) HW frequency', 63, 12, 48.5);
addText('(b) Cloud Cover', 995, 8, 48.5);
addText('(c) Relative humidity and wind field', 29, 793, 48.5);
addText('(d) Vertical velocity', 1020, 791, 48.5);

// ---- panel (b)
const cloudFields = [cloudType1, cloudType2, cloudType3, cloudType4, cloudType5, cloudType6];
const bCols = [1028, 1324, 1619], bRows = [91, 401];
cloudFields.forEach((f, i) => {
  mapPanel([bCols[i % 3], bRows[Math.floor(i / 3)], 235, 265], typeNames[i], f, cloudLevels, cloudColors);
});
colorBar([1074, 708, 732, 12], cloudColors, v => {
  const lv = cloudLevels[v - 1];
  return lv !== undefined && lv % 2 === 0 ? lv : '';
}, 18, 1);
addText('%', 1815, 704, 16);

// ---- panel (c)
const rhFields = [rhType1, rhType2, rhType3, rhType4, rhType5, rhType6];
const windU = [windUType1, windUType2, windUType3, windUType4, windUType5, windUType6];
const windV = [windVType1, windVType2, windVType3, windVType4, windVType5, windVType6];
const cCols = [65, 363, 660], cRows = [888, 1202];
rhFields.forEach((f, i) => {
  mapPanel([cCols[i % 3], cRows[Math.floor(i / 3)], 237, 267], typeNames[i], f, rhLevels, rhColors, windU[i], windV[i]);
});
colorBar([103, 1508, 737, 12], rhColors, v => {
  const lv = rhLevels[v - 1];
  return lv === undefined ? '' : lv;
}, 19, 1);
addText('%', 848, 1504, 17);
addText('(d) Type 4', 146, 1177, 17);
addText('(e) Type 5', 452, 1177, 17);
addText('(f) Type 6', 742, 1177, 17);

// ---- panel (d)
const omegaFields = [omegaType1, omegaType2, omegaType3, omegaType4, omegaType5, omegaType6];
const dCols = [1086, 1477], dRows = [866, 1090, 1312];
omegaFields.forEach((f, i) => {
  sectionPanel([dCols[i % 2], dRows[Math.floor(i / 2)], i % 2 ? 330 : 329, 188], typeNames[i], f);
});
colorBar([1087, 1535, 671, 12], omegaColors, v => omegaLevelLabels[v - 1] || '', 18, 1);
addText('Pa s', 1763, 1532, 16);
addText('-1', 1793, 1529, 10);
</script>
</body>
</html>
